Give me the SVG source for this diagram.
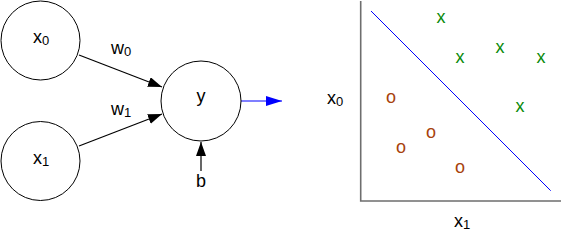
<svg xmlns="http://www.w3.org/2000/svg" width="562" height="231" viewBox="0 0 562 231">
<style>
text{font-family:"Liberation Sans",Arial,sans-serif;font-size:18px;fill:#000}
.sub{font-size:13px}
.node{fill:#fff;stroke:#000;stroke-width:1}
.edge{stroke:#000;stroke-width:1.2;fill:none}
.mx{fill:#0a8a0a;text-anchor:middle;font-size:18px}
.mo{fill:#a8420c;text-anchor:middle;font-size:18px}
</style>
<defs>
<marker id="ah" markerUnits="userSpaceOnUse" markerWidth="16" markerHeight="12" refX="14" refY="5" orient="auto">
<polygon points="0,0 14,5 0,10" fill="#000"/>
</marker>
<marker id="ahb" markerUnits="userSpaceOnUse" markerWidth="18" markerHeight="12" refX="16" refY="5" orient="auto">
<polygon points="0,0 16,5 0,10" fill="#0000ff"/>
</marker>
</defs>
<g id="connectors">
<line class="edge" x1="79" y1="55" x2="162" y2="87" marker-end="url(#ah)"/>
<line class="edge" x1="79" y1="146" x2="162" y2="114" marker-end="url(#ah)"/>
<line class="edge" x1="201" y1="171" x2="201" y2="142" marker-end="url(#ah)"/>
<line x1="241" y1="101" x2="282" y2="101" stroke="#0000ff" stroke-width="1.2" marker-end="url(#ahb)"/>
<text x="111" y="54">w<tspan class="sub" dy="2">0</tspan></text>
<text x="111" y="115">w<tspan class="sub" dy="2">1</tspan></text>
</g>
<g id="node-x0">
<circle class="node" cx="40.5" cy="40.5" r="39.5"/>
<text x="33" y="43">x<tspan class="sub" dy="2">0</tspan></text>
</g>
<g id="node-x1">
<circle class="node" cx="40.5" cy="161" r="39.5"/>
<text x="33" y="164">x<tspan class="sub" dy="2">1</tspan></text>
</g>
<g id="node-y">
<circle class="node" cx="201" cy="101" r="40"/>
<text x="201" y="102" text-anchor="middle">y</text>
</g>
<g id="node-b">
<text x="201" y="187" text-anchor="middle">b</text>
</g>
<g id="plot">
<polyline points="360.7,1 360.7,201 561,201" fill="none" stroke="#6e6e6e" stroke-width="1.6"/>
<line x1="371" y1="11" x2="550.7" y2="190.7" stroke="#0000ff" stroke-width="1"/>
<text x="327" y="104">x<tspan class="sub" dy="2">0</tspan></text>
<text x="454" y="227">x<tspan class="sub" dy="2">1</tspan></text>
<text class="mx" x="441" y="23">x</text>
<text class="mx" x="460" y="63">x</text>
<text class="mx" x="500" y="53">x</text>
<text class="mx" x="541" y="63">x</text>
<text class="mx" x="520" y="112">x</text>
<text class="mo" x="391" y="103">o</text>
<text class="mo" x="431" y="138">o</text>
<text class="mo" x="401" y="153">o</text>
<text class="mo" x="460" y="173">o</text>
</g>
</svg>
